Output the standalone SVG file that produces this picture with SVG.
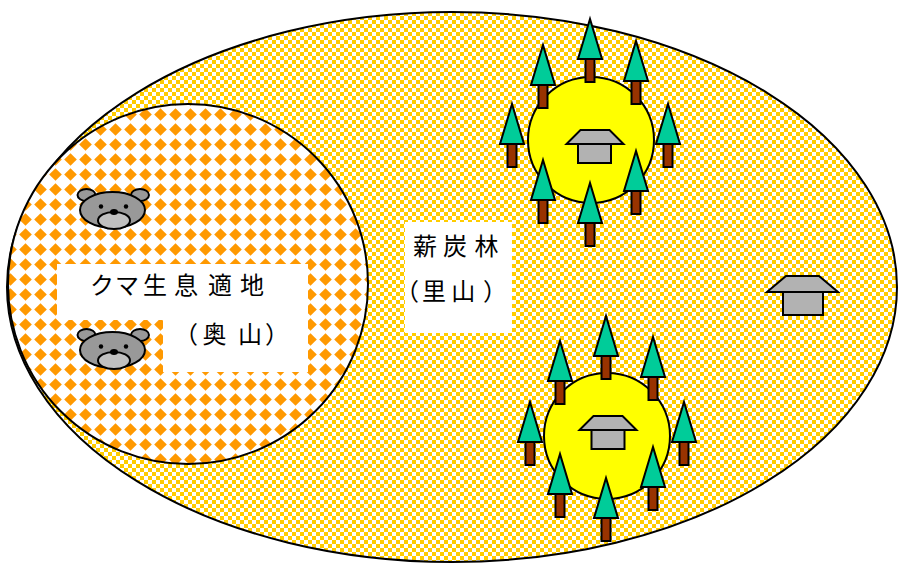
<svg xmlns="http://www.w3.org/2000/svg" xmlns:xlink="http://www.w3.org/1999/xlink" width="898" height="563" viewBox="0 0 898 563">
  <style>
    .outline { stroke: #000; stroke-width: 2; }
    .label { font-family: "Noto Sans CJK JP", "Noto Sans CJK SC", sans-serif; font-size: 24px; fill: #000; }
    .crown { fill: #00CC99; stroke: #000; stroke-width: 2; }
    .trunk { fill: #993300; stroke: #000; stroke-width: 2; }
    .roof, .wall { fill: #B2B2B2; stroke: #000; stroke-width: 2; }
    .village { fill: #FFFF00; stroke: #000; stroke-width: 2; }
    .head { fill: #999999; stroke: #000; stroke-width: 2; }
    .muzzle { fill: #C0C0C0; stroke: #000; stroke-width: 2; }
  </style>
  <defs>
    <!-- small yellow checkerboard for the coppice woodland -->
    <pattern id="checkY" width="8" height="8" patternUnits="userSpaceOnUse">
      <rect width="8" height="8" fill="#FFFFFF"/>
      <rect width="4" height="4" fill="#FFCC00"/>
      <rect x="4" y="4" width="4" height="4" fill="#FFCC00"/>
    </pattern>
    <!-- orange harlequin diamonds for the bear habitat -->
    <pattern id="diamondO" width="15" height="15" patternUnits="userSpaceOnUse" x="3" y="2">
      <rect width="15" height="15" fill="#FFFFFF"/>
      <path fill="#FF9900" d="M7.5 1.2 L13.8 7.5 L7.5 13.8 L1.2 7.5Z"/>
    </pattern>
    <!-- conifer: apex at origin -->
    <g id="tree">
      <rect class="trunk" x="-4.5" y="40" width="9" height="23"/>
      <polygon class="crown" points="0,0 -12,40 12,40"/>
    </g>
    <!-- bear face centred on the head -->
    <g id="bear">
      <ellipse class="head" cx="-26" cy="-15" rx="9" ry="6"/>
      <ellipse class="head" cx="27.5" cy="-15" rx="9" ry="6"/>
      <ellipse class="head" cx="0" cy="0" rx="32.5" ry="18"/>
      <ellipse class="muzzle" cx="1.5" cy="10.5" rx="16" ry="8.5"/>
      <circle cx="-11.5" cy="-3.5" r="2.2" fill="#000"/>
      <circle cx="13.5" cy="-3.5" r="2.2" fill="#000"/>
      <ellipse cx="1.5" cy="2" rx="4" ry="3" fill="#000"/>
    </g>
  </defs>

  <!-- coppice woodland (satoyama) -->
  <g id="satoyama">
    <ellipse cx="452" cy="287" rx="445" ry="275" fill="url(#checkY)" class="outline"/>
  </g>

  <!-- bear habitat (okuyama) -->
  <g id="okuyama">
    <circle cx="188" cy="284" r="180" fill="url(#diamondO)" class="outline"/>
    <path d="M57 264 H308 V372 H163 V320 H57 Z" fill="#FFFFFF"/>
    <use xlink:href="#bear" x="112.5" y="210"/>
    <use xlink:href="#bear" x="112.5" y="350"/>
    <text class="label" y="294" x="90 115 143 174 208 240">クマ生息適地</text>
    <text class="label" y="343" x="174 202.5 238 265">（奥山）</text>
  </g>

  <!-- coppice label -->
  <g id="coppice-label">
    <rect x="405" y="222" width="107" height="111" fill="#FFFFFF"/>
    <text class="label" y="255" x="413 443 474.5">薪炭林</text>
    <text class="label" y="300" x="395 422 451.3 483">（里山）</text>
  </g>

  <!-- upper village with surrounding trees -->
  <g id="village-1">
    <circle class="village" cx="591" cy="140" r="63"/>
    <rect class="wall" x="578" y="144" width="33" height="19"/>
    <polygon class="roof" points="580.5,130 609.5,130 623.5,144 566.5,144"/>
    <use xlink:href="#tree" x="590" y="19"/>
    <use xlink:href="#tree" x="543" y="45"/>
    <use xlink:href="#tree" x="636" y="41"/>
    <use xlink:href="#tree" x="512" y="104"/>
    <use xlink:href="#tree" x="668" y="104"/>
    <use xlink:href="#tree" x="543" y="160"/>
    <use xlink:href="#tree" x="636" y="151"/>
    <use xlink:href="#tree" x="590" y="183"/>
  </g>

  <!-- lower village with surrounding trees -->
  <g id="village-2">
    <circle class="village" cx="607" cy="436" r="63"/>
    <rect class="wall" x="591.5" y="430" width="33" height="19"/>
    <polygon class="roof" points="593.5,416 622.5,416 636.5,430 579.5,430"/>
    <use xlink:href="#tree" x="606" y="316"/>
    <use xlink:href="#tree" x="560" y="341"/>
    <use xlink:href="#tree" x="653" y="337"/>
    <use xlink:href="#tree" x="530" y="402"/>
    <use xlink:href="#tree" x="684" y="402"/>
    <use xlink:href="#tree" x="560" y="454"/>
    <use xlink:href="#tree" x="653" y="447"/>
    <use xlink:href="#tree" x="606" y="478"/>
  </g>

  <!-- lone house -->
  <g id="house-3">
    <rect class="wall" x="783" y="292" width="40" height="23"/>
    <polygon class="roof" points="786,276 819,276 838,292 767,292"/>
  </g>

  <g id="connectors"/>
</svg>
